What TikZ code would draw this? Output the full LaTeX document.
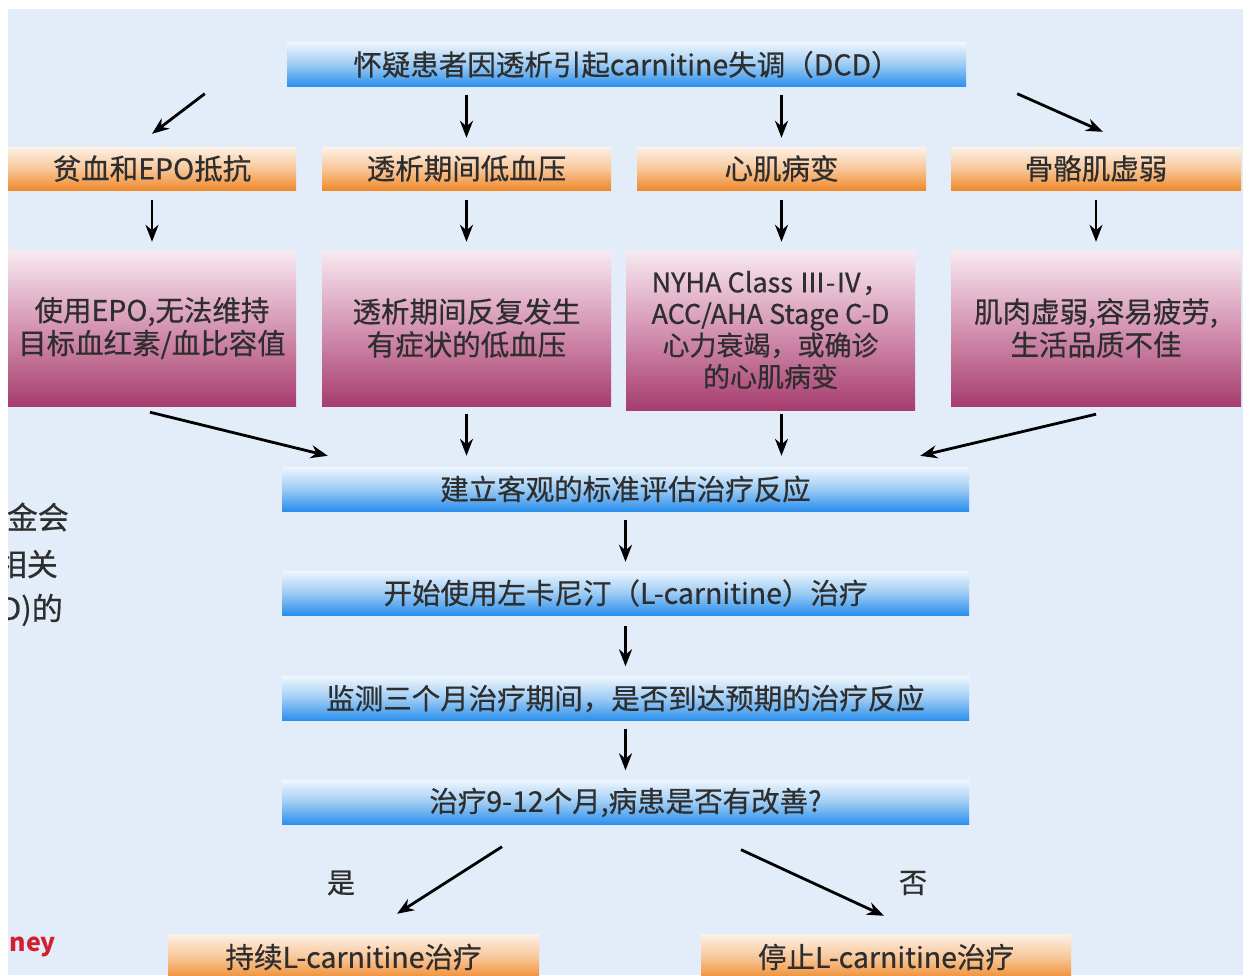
\documentclass[tikz,border=0pt]{standalone}
\usepackage{fontspec}
\setmainfont{Noto Sans CJK SC}
\newfontfamily\heavyfont{Noto Sans CJK SC}[FakeBold=0.6]
\usetikzlibrary{arrows.meta,calc}
\definecolor{bgc}{HTML}{E2EDF9}
\definecolor{txt}{HTML}{2E2E2E}
\definecolor{bluetop}{HTML}{EEF6FD}
\definecolor{bluemid}{HTML}{9CCBF4}
\definecolor{bluebot}{HTML}{2A8FEC}
\definecolor{ortop}{HTML}{FDF1E6}
\definecolor{ormid}{HTML}{F8C79A}
\definecolor{orbot}{HTML}{EF8A2C}
\definecolor{pktop}{HTML}{F8EAF1}
\definecolor{pkmid}{HTML}{D493B2}
\definecolor{pkbot}{HTML}{A63D6D}
\definecolor{redk}{HTML}{D0202F}
\begin{document}
\begin{tikzpicture}[x=1pt,y=-1pt,
  base/.style={inner sep=0pt,align=center,text=txt},
  bluebar/.style={base,shade,top color=bluetop,bottom color=bluebot,middle color=bluemid,
     minimum height=44pt,font=\heavyfont\fontsize{28.5}{32}\selectfont},
  orangebox/.style={base,shade,top color=ortop,bottom color=orbot,middle color=ormid,
     minimum height=43pt,minimum width=289pt,font=\heavyfont\fontsize{28.5}{32}\selectfont},
  pinkbox/.style={base,shade,top color=pktop,bottom color=pkbot,middle color=pkmid,
     minimum width=289pt,font=\heavyfont\fontsize{28.5}{33}\selectfont},
  arr/.style={line width=2.8pt,-{Stealth[length=17pt,width=13pt]}},
  lbl/.style={base,font=\heavyfont\fontsize{28}{30}\selectfont},
  sidetxt/.style={inner sep=0pt,anchor=east,text=txt,font=\heavyfont\fontsize{31}{34}\selectfont}]
\useasboundingbox (0,0) rectangle (1250,975);
\fill[white] (0,0) rectangle (1250,975);
\fill[bgc] (8,9) rectangle (1243,975);

% left cut-off slide text
\begin{scope}
\clip (8,9) rectangle (1243,975);
\node[sidetxt] (s1) at (69,517) {基金会};
\node[sidetxt] (s2) at (58,564) {相关};
\node[sidetxt] (s3) at (63,610) {(DCD)的};
\node[inner sep=0pt,anchor=east,text=redk,font=\fontsize{25}{28}\selectfont\bfseries] (s4) at (56,944) {Kidney};
\end{scope}

% top
\node[bluebar,minimum width=679pt] (top) at (626.5,64.5) {怀疑患者因透析引起carnitine失调（DCD）};

% orange row
\node[orangebox,minimum width=288pt] (o1) at (152,168.5) {贫血和EPO抵抗};
\node[orangebox] (o2) at (466.5,168.5) {透析期间低血压};
\node[orangebox] (o3) at (781.5,168.5) {心肌病变};
\node[orangebox,minimum width=290pt] (o4) at (1096,168.5) {骨骼肌虚弱};

% pink row
\node[pinkbox,minimum width=288pt,minimum height=156pt] (p1) at (152,328) {使用EPO,无法维持\\目标血红素/血比容值};
\node[pinkbox,minimum height=156pt] (p2) at (466.5,328) {透析期间反复发生\\有症状的低血压};
\node[pinkbox,minimum height=160pt,font=\heavyfont\fontsize{27}{31.5}\selectfont] (p3) at (770.5,330) {NYHA Class Ⅲ-Ⅳ，\\ACC/AHA Stage C-D\\心力衰竭，或确诊\\的心肌病变};
\node[pinkbox,minimum width=290pt,minimum height=156pt] (p4) at (1096,328) {肌肉虚弱,容易疲劳,\\生活品质不佳};

% blue chain
\node[bluebar,minimum width=687pt] (b1) at (625.5,489) {建立客观的标准评估治疗反应};
\node[bluebar,minimum width=687pt] (b2) at (625.5,593) {开始使用左卡尼汀（L-carnitine）治疗};
\node[bluebar,minimum width=687pt] (b3) at (625.5,698.5) {监测三个月治疗期间，是否到达预期的治疗反应};
\node[bluebar,minimum width=687pt] (b4) at (625.5,802.5) {治疗9-12个月,病患是否有改善?};

% results
\node[orangebox,minimum width=371pt,minimum height=46pt] (r1) at (353.5,957) {持续L-carnitine治疗};
\node[orangebox,minimum width=370pt,minimum height=46pt] (r2) at (886,957) {停止L-carnitine治疗};

\node[lbl] (yes) at (341,883) {是};
\node[lbl] (no) at (913,883) {否};

% arrows top -> orange
\draw[arr] ([xshift=-82pt,yshift=-7pt]top.south west) -- ([yshift=13pt]o1.north);
\draw[arr] ([yshift=-8pt]top.south -| o2.north) -- ([yshift=9pt]o2.north);
\draw[arr] ([yshift=-8pt]top.south -| o3.north) -- ([yshift=9pt]o3.north);
\draw[arr] ([xshift=51pt,yshift=-7pt]top.south east) -- ([xshift=7pt,yshift=15pt]o4.north);

% orange -> pink
\draw[arr] ([yshift=-10pt]o1.south) -- ([yshift=8pt]p1.north);
\draw[arr] ([yshift=-10pt]o2.south) -- ([yshift=8pt]p2.north);
\draw[arr] ([yshift=-10pt]o3.south) -- ([yshift=8pt]p3.north -| o3.south);
\draw[arr] ([yshift=-10pt]o4.south) -- ([yshift=8pt]p4.north);

% pink -> b1
\draw[arr] ([xshift=-2pt,yshift=-6pt]p1.south) -- ([xshift=46pt,yshift=11pt]b1.north west);
\draw[arr] ([yshift=-8pt]p2.south) -- ([yshift=11pt]b1.north -| p2.south);
\draw[arr] ([yshift=-4pt]o3.south |- p3.south) -- ([yshift=11pt]b1.north -| o3.south);
\draw[arr] ([yshift=-8pt]p4.south) -- ([xshift=-49pt,yshift=11pt]b1.north east);

% chain
\draw[arr] ([yshift=-9pt]b1.south) -- ([yshift=9pt]b2.north);
\draw[arr] ([yshift=-11pt]b2.south) -- ([yshift=10pt]b3.north);
\draw[arr] ([yshift=-8pt]b3.south) -- ([yshift=10pt]b4.north);

% outcomes
\draw[arr] ([xshift=-123.5pt,yshift=-22pt]b4.south) -- ([xshift=43.5pt,yshift=20pt]r1.north);
\draw[arr] ([xshift=115.5pt,yshift=-25pt]b4.south) -- ([xshift=-2pt,yshift=18pt]r2.north);
\end{tikzpicture}
\end{document}
